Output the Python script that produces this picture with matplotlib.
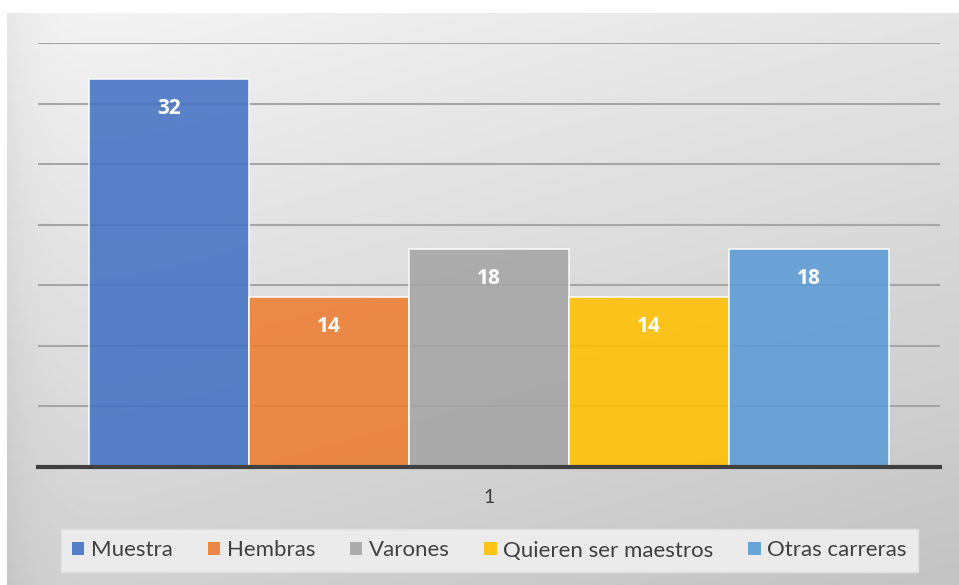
import numpy as np
import matplotlib
matplotlib.use("Agg")
import matplotlib.pyplot as plt
from matplotlib.patches import Patch

# data
series = ["Muestra", "Hembras", "Varones", "Quieren ser maestros", "Otras carreras"]
values = [32, 14, 18, 14, 18]
colors = ["#4472C4", "#ED7D31", "#A5A5A5", "#FFC000", "#5B9BD5"]
categories = ["1"]

plt.rcParams["font.family"] = ["Lato", "DejaVu Sans"]

W, H = 959, 585
fig = plt.figure(figsize=(W / 100, H / 100), dpi=100)
fig.patch.set_facecolor("white")

# gradient background for the chart area
bg = fig.add_axes([7 / W, 0, 952 / W, 572 / H], zorder=0)
yy, xx = np.mgrid[0:1:200j, 0:1:300j]
grad = 0.955 - 0.13 * yy - 0.06 * xx
grad -= 0.05 * np.exp(-xx / 0.03)
bg.imshow(grad, aspect="auto", cmap="gray", vmin=0, vmax=1,
          extent=[0, 1, 0, 1], origin="upper", interpolation="bilinear")
bg.axis("off")

ax = fig.add_axes([38 / W, 1 - 467 / H, (940 - 38) / W, (467 - 43) / H], zorder=1)
ax.set_facecolor("none")

width = 160 / 902
x0 = np.arange(len(categories))
for i, (name, v, c) in enumerate(zip(series, values, colors)):
    ax.bar(x0 + (i - 2) * width, [v], width, color=c, alpha=0.88,
           edgecolor="white", linewidth=1.2, label=name, zorder=2)
    ax.annotate(str(v), (x0[0] + (i - 2) * width, v), xytext=(0, -21),
                textcoords="offset points", ha="center", va="center",
                color="white", fontsize=15, fontweight="bold",
                family=["Open Sans", "DejaVu Sans"], zorder=3)

ax.set_xlim(-0.5, 0.5)
ax.set_ylim(0, 35)
ax.set_yticks(np.arange(0, 36, 5))
ax.set_yticklabels([])
ax.tick_params(axis="y", length=0)
ax.grid(axis="y", color="#a6a6a6", linewidth=1.5, zorder=0)
ax.set_axisbelow(True)
ax.set_xticks(x0)
ax.set_xticklabels(categories, fontsize=14, color="#404040")
ax.tick_params(axis="x", length=0, pad=16)
for s in ["top", "right", "left"]:
    ax.spines[s].set_visible(False)
ax.spines["bottom"].set_color("#404040")
ax.spines["bottom"].set_linewidth(3)
ax.spines["bottom"].set_zorder(4)

handles = [Patch(facecolor=c, edgecolor="none", alpha=0.9) for c in colors]
leg = fig.legend(handles, series, loc="center", mode="expand",
                 bbox_to_anchor=(50 / W, 1 - 573 / H, 879 / W, 45 / H),
                 ncol=5, frameon=True, fontsize=16, handlelength=0.55, handleheight=0.55,
                 handletextpad=0.3, columnspacing=1.0, borderpad=0.5,
                 labelcolor="#404040")
leg.get_frame().set_facecolor("#ebebeb")
leg.get_frame().set_edgecolor("#e0e0e0")
leg.get_frame().set_boxstyle("square", pad=0)
leg.get_frame().set_alpha(1)

fig.savefig("out.png", dpi=100)
